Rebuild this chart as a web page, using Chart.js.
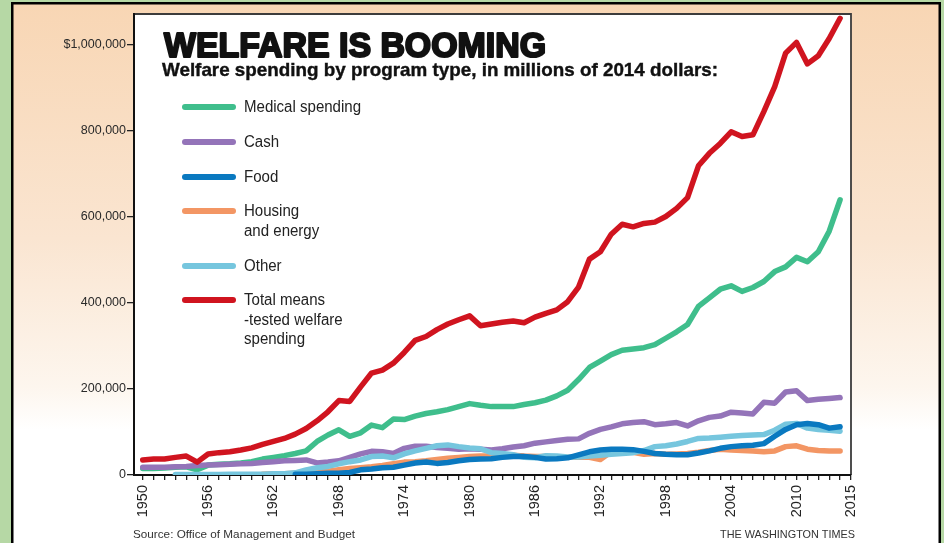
<!DOCTYPE html>
<html>
<head>
<meta charset="utf-8">
<script src="https://cdn.jsdelivr.net/npm/chart.js@4.4.1/dist/chart.umd.min.js"></script>
<style>
  html, body { margin: 0; padding: 0; background: #b6d8a5; overflow: hidden; }
  canvas { display: block; }
</style>
</head>
<body>
<canvas id="chart" width="944" height="543" style="width:944px;height:543px"></canvas>
<script>
  // Welfare spending by program type, millions of 2014 dollars
  var YEARS = [1950, 1951, 1952, 1953, 1954, 1955, 1956, 1957, 1958, 1959,
    1960, 1961, 1962, 1963, 1964, 1965, 1966, 1967, 1968, 1969,
    1970, 1971, 1972, 1973, 1974, 1975, 1976, 1977, 1978, 1979,
    1980, 1981, 1982, 1983, 1984, 1985, 1986, 1987, 1988, 1989,
    1990, 1991, 1992, 1993, 1994, 1995, 1996, 1997, 1998, 1999,
    2000, 2001, 2002, 2003, 2004, 2005, 2006, 2007, 2008, 2009,
    2010, 2011, 2012, 2013, 2014];

  var MEDICAL = [15000, 15000, 16000, 18000, 19000, 12000, 23000, 25000, 26000, 28000,
    31000, 37000, 41000, 45000, 50000, 56000, 78000, 93000, 105000, 90000,
    98000, 116000, 110000, 130000, 129000, 137000, 143000, 147000, 152000, 159000,
    166000, 162000, 159000, 159000, 159000, 164000, 168000, 174000, 184000, 197000,
    222000, 250000, 265000, 280000, 290000, 293000, 296000, 303000, 318000, 333000,
    350000, 392000, 412000, 432000, 440000, 427000, 436000, 450000, 473000, 484000,
    506000, 496000, 519000, 567000, 640000];

  var CASH = [18000, 18000, 18000, 19000, 20000, 22000, 23000, 24000, 25000, 26000,
    27000, 29000, 31000, 33000, 34000, 35000, 28000, 30000, 33000, 41000,
    49000, 55000, 54000, 50000, 62000, 67000, 67000, 64000, 62000, 60000,
    61000, 60000, 58000, 61000, 65000, 68000, 74000, 77000, 80000, 83000,
    84000, 97000, 106000, 112000, 119000, 122000, 124000, 117000, 119000, 122000,
    114000, 126000, 134000, 137000, 146000, 144000, 142000, 169000, 167000, 193000,
    196000, 173000, 176000, 178000, 180000];

  var FOOD = [null, null, null, null, null, null, null, null, null, null,
    null, null, null, null, 2000, 2000, 3000, 4000, 4000, 6000,
    12000, 14000, 17000, 18000, 23000, 28000, 30000, 27000, 29000, 33000,
    36000, 37000, 38000, 41000, 43000, 43000, 41000, 37000, 38000, 40000,
    47000, 54000, 58000, 60000, 60000, 59000, 55000, 50000, 48000, 47000,
    47000, 51000, 56000, 62000, 66000, 68000, 69000, 73000, 90000, 106000,
    117000, 120000, 117000, 109000, 112000];

  var HOUSING = [null, null, null, null, null, null, null, null, null, null,
    null, 2000, 3000, 3000, 4000, 5000, 7000, 9000, 12000, 15000,
    17000, 19000, 22000, 26000, 30000, 31000, 33000, 36000, 39000, 41000,
    43000, 44000, 45000, 47000, 46000, 44000, 43000, 43000, 42000, 41000,
    41000, 41000, 36000, 54000, 54000, 53000, 48000, 50000, 48000, 49000,
    50000, 53000, 57000, 60000, 58000, 57000, 56000, 54000, 56000, 66000,
    68000, 60000, 57000, 56000, 56000];

  var OTHER = [null, null, null, 1000, 1000, 1000, 1000, 1000, 2000, 2000,
    2000, 2000, 3000, 3000, 5000, 12000, 17000, 20000, 26000, 31000,
    35000, 43000, 44000, 40000, 49000, 56000, 62000, 68000, 70000, 66000,
    63000, 61000, 52000, 50000, 47000, 41000, 40000, 45000, 44000, 42000,
    42000, 44000, 46000, 48000, 50000, 52000, 57000, 66000, 68000, 72000,
    78000, 85000, 86000, 88000, 90000, 92000, 93000, 94000, 104000, 118000,
    120000, 109000, 106000, 104000, 102000];

  var TOTAL = [35000, 37000, 37000, 41000, 44000, 30000, 49000, 52000, 54000, 58000,
    63000, 71000, 78000, 85000, 95000, 108000, 126000, 147000, 173000, 171000,
    205000, 237000, 244000, 260000, 285000, 313000, 322000, 338000, 351000, 361000,
    370000, 347000, 351000, 355000, 358000, 354000, 367000, 376000, 384000, 403000,
    437000, 502000, 519000, 560000, 583000, 577000, 585000, 588000, 601000, 620000,
    645000, 719000, 748000, 771000, 798000, 787000, 791000, 845000, 903000, 981000,
    1006000, 956000, 975000, 1015000, 1062000];

  var X_TICKS = YEARS.concat([2015]);
  var X_LABELS = [1950, 1956, 1962, 1968, 1974, 1980, 1986, 1992, 1998, 2004, 2010, 2015];
  var Y_TICKS = [0, 200000, 400000, 600000, 800000, 1000000];

  var SERIES = [
    { label: "Medical spending", data: MEDICAL, color: "#3fbe8c", order: 4 },
    { label: "Cash", data: CASH, color: "#9474b9", order: 3 },
    { label: "Food", data: FOOD, color: "#0a79c0", order: 1 },
    { label: "Housing\nand energy", data: HOUSING, color: "#f39664", order: 5 },
    { label: "Other", data: OTHER, color: "#76c6de", order: 2 },
    { label: "Total means\n-tested welfare\nspending", data: TOTAL, color: "#d0141f", order: 0 }
  ];
  var LEGEND_Y = [107, 142, 177, 211, 266, 300];

  var SANS = "'Liberation Sans', Arial, sans-serif";

  // draw text squeezed/stretched to a set width; leaves ctx translated, caller restores
  function fitText(ctx, text, x, y, w, font) {
    ctx.save();
    ctx.font = font;
    var m = ctx.measureText(text).width;
    ctx.translate(x, y);
    ctx.scale(w / m, 1);
    ctx.fillText(text, 0, 0);
  }

  var backdrop = {
    id: "backdrop",
    beforeDraw: function (chart) {
      var ctx = chart.ctx, a = chart.chartArea;
      ctx.save();
      ctx.fillStyle = "#b6d8a5";
      ctx.fillRect(0, 0, 944, 543);
      var g = ctx.createLinearGradient(0, 4, 0, 430);
      g.addColorStop(0, "#f8d6b4");
      g.addColorStop(0.55, "#fae5d1");
      g.addColorStop(0.9, "#fdf6ee");
      g.addColorStop(1, "#ffffff");
      ctx.fillStyle = g;
      ctx.fillRect(12, 3, 928, 430);
      ctx.fillStyle = "#ffffff";
      ctx.fillRect(12, 430, 928, 120);
      ctx.strokeStyle = "#000";
      ctx.lineWidth = 2.5;
      ctx.strokeRect(12.25, 3.25, 927.5, 560);
      // white plot panel
      ctx.fillStyle = "#fff";
      ctx.fillRect(a.left, a.top, a.right - a.left, a.bottom - a.top);
      ctx.strokeStyle = "#3c3c3c";
      ctx.lineWidth = 1.8;
      ctx.beginPath();
      ctx.moveTo(a.left, a.bottom);
      ctx.lineTo(a.left, a.top);
      ctx.lineTo(a.right, a.top);
      ctx.lineTo(a.right, a.bottom);
      ctx.stroke();
      ctx.restore();
    },
    beforeDatasetsDraw: function (chart) {
      var ctx = chart.ctx;
      ctx.save();
      ctx.fillStyle = "#111";
      ctx.textBaseline = "alphabetic";
      fitText(ctx, "WELFARE IS BOOMING", 164, 57, 382, "bold 35px " + SANS);
      ctx.strokeStyle = "#111";
      ctx.lineWidth = 2.2;
      ctx.lineJoin = "round";
      ctx.strokeText("WELFARE IS BOOMING", 0, 0);
      ctx.restore();
      fitText(ctx, "Welfare spending by program type, in millions of 2014 dollars:", 162, 76, 556, "bold 19px " + SANS);
      ctx.strokeStyle = "#111";
      ctx.lineWidth = 0.4;
      ctx.strokeText("Welfare spending by program type, in millions of 2014 dollars:", 0, 0);
      ctx.restore();

      // legend
      chart.data.datasets.forEach(function (ds, i) {
        var y = LEGEND_Y[i];
        ctx.strokeStyle = ds.borderColor;
        ctx.lineWidth = 6;
        ctx.lineCap = "round";
        ctx.beginPath();
        ctx.moveTo(185, y);
        ctx.lineTo(233, y);
        ctx.stroke();
        ctx.fillStyle = "#222";
        ctx.textBaseline = "middle";
        ds.label.split("\n").forEach(function (line, k) {
          ctx.font = "16px " + SANS;
          var w = ctx.measureText(line).width * 0.94;
          fitText(ctx, line, 244, y + 1 + k * 19.5, w, "16px " + SANS);
          ctx.restore();
        });
      });

      ctx.fillStyle = "#333";
      ctx.textBaseline = "alphabetic";
      fitText(ctx, "Source: Office of Management and Budget", 133, 538, 222, "11.5px " + SANS);
      ctx.restore();
      fitText(ctx, "THE WASHINGTON TIMES", 720, 538, 135, "11.5px " + SANS);
      ctx.restore();
      ctx.restore();
    }
  };

  new Chart(document.getElementById("chart"), {
    type: "line",
    data: {
      datasets: SERIES.map(function (s) {
        return {
          label: s.label,
          data: YEARS.map(function (y, i) { return { x: y, y: s.data[i] }; }),
          borderColor: s.color,
          borderWidth: 5.5,
          borderCapStyle: "round",
          borderJoinStyle: "round",
          pointRadius: 0,
          tension: 0,
          fill: false,
          order: s.order
        };
      })
    },
    options: {
      responsive: false,
      animation: false,
      layout: { padding: { left: 0, right: 93, top: 14, bottom: 0 } },
      plugins: { legend: { display: false }, tooltip: { enabled: false } },
      scales: {
        x: {
          type: "linear",
          min: 1949.2,
          max: 2015,
          afterBuildTicks: function (s) { s.ticks = X_TICKS.map(function (v) { return { value: v }; }); },
          afterFit: function (s) { s.height = 68; },
          ticks: {
            autoSkip: false, minRotation: 90, maxRotation: 90, padding: 5,
            color: "#222", font: { family: SANS, size: 14.5 },
            callback: function (v) { return X_LABELS.indexOf(v) >= 0 ? String(v) : ""; }
          },
          grid: { drawOnChartArea: false, drawTicks: true, tickLength: 5, color: "#222", lineWidth: 1.3 },
          border: { color: "#111", width: 2 }
        },
        y: {
          type: "linear",
          min: 0,
          max: 1072000,
          afterBuildTicks: function (s) { s.ticks = Y_TICKS.map(function (v) { return { value: v }; }); },
          afterFit: function (s) { s.width = 134; },
          ticks: {
            padding: 1, color: "#2a2a2a", font: { family: SANS, size: 12.5 },
            callback: function (v) { return v === 1000000 ? "$1,000,000" : v.toLocaleString("en-US"); }
          },
          grid: { drawOnChartArea: false, drawTicks: true, tickLength: 7, color: "#222", lineWidth: 1.3 },
          border: { color: "#111", width: 2 }
        }
      }
    },
    plugins: [backdrop]
  });
</script>
</body>
</html>
